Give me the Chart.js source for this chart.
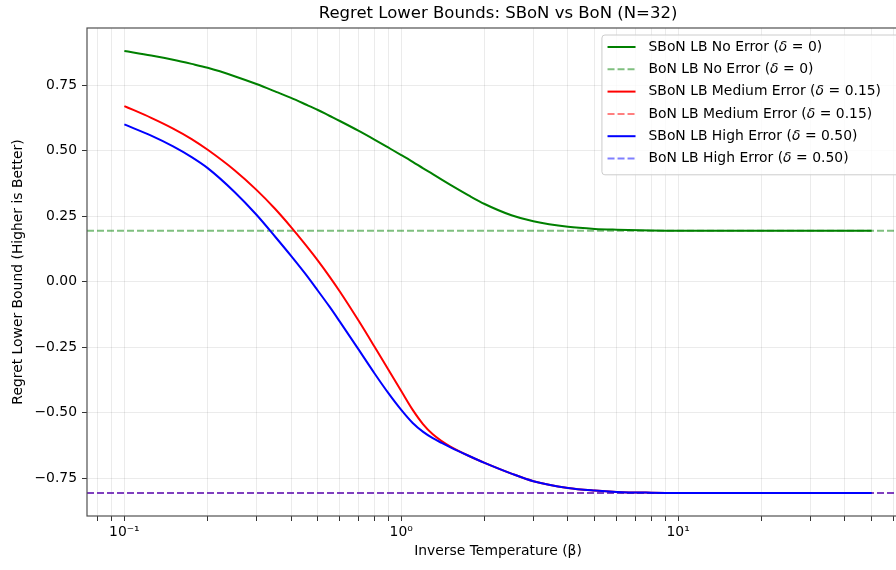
<!DOCTYPE html>
<html>
<head>
<meta charset="utf-8">
<script src="https://cdn.jsdelivr.net/npm/chart.js@4.4.0/dist/chart.umd.min.js"></script>
<style>
  html, body { margin: 0; padding: 0; overflow: hidden; background: #fff; }
  canvas { display: block; }
</style>
</head>
<body>
<canvas id="myChart" width="920" height="570"></canvas>
<script>
// Values
const beta = [0.1, 0.125, 0.15, 0.175, 0.2, 0.25, 0.3, 0.35, 0.4, 0.45,
              0.5, 0.55, 0.6, 0.7, 0.8, 0.9, 1.0, 1.1, 1.2, 1.3,
              1.4, 1.5, 1.75, 2, 2.5, 3, 4, 5, 6, 8,
              10, 15, 20, 30, 50];
const sbonNoError = [0.880, 0.863, 0.847, 0.831, 0.816, 0.784, 0.754, 0.726, 0.701, 0.677,
                     0.655, 0.633, 0.613, 0.576, 0.542, 0.511, 0.483, 0.457, 0.432, 0.410,
                     0.389, 0.370, 0.329, 0.296, 0.253, 0.230, 0.209, 0.201, 0.198, 0.195,
                     0.194, 0.194, 0.194, 0.194, 0.194];
const sbonMedium = [0.670, 0.625, 0.584, 0.544, 0.503, 0.425, 0.350, 0.278, 0.208, 0.142,
                    0.080, 0.020, -0.038, -0.148, -0.248, -0.338, -0.418, -0.490, -0.545, -0.583,
                    -0.609, -0.629, -0.665, -0.692, -0.733, -0.762, -0.788, -0.798, -0.803, -0.806,
                    -0.807, -0.807, -0.807, -0.807, -0.807];
const sbonHigh = [0.600, 0.557, 0.516, 0.475, 0.433, 0.342, 0.255, 0.172, 0.098, 0.030,
                  -0.035, -0.095, -0.153, -0.258, -0.350, -0.427, -0.490, -0.540, -0.574, -0.598,
                  -0.616, -0.632, -0.665, -0.692, -0.733, -0.762, -0.788, -0.798, -0.803, -0.806,
                  -0.807, -0.807, -0.807, -0.807, -0.807];
const bonNoError = 0.194;
const bonMedium = -0.807;
const bonHigh = -0.807;

const seriesLabels = [
    'SBoN LB No Error (δ = 0)',
    'BoN LB No Error (δ = 0)',
    'SBoN LB Medium Error (δ = 0.15)',
    'BoN LB Medium Error (δ = 0.15)',
    'SBoN LB High Error (δ = 0.50)',
    'BoN LB High Error (δ = 0.50)'
];

const xAxisMin = 0.0733;
const xAxisMax = 68.2;
const yAxisMin = -0.895;
const yAxisMax = 0.968;
const yTicks = [-0.75, -0.5, -0.25, 0, 0.25, 0.5, 0.75];
const xMajorTicks = [0.1, 1, 10];
const xMinorTicks = [0.08, 0.09, 0.2, 0.3, 0.4, 0.5, 0.6, 0.7, 0.8, 0.9, 2, 3, 4, 5, 6, 7, 8, 9, 20, 30, 40, 50, 60];

const FONT = '"DejaVu Sans", sans-serif';
Chart.defaults.font.family = FONT;
Chart.defaults.color = '#000';

function curve(values) {
    return beta.map((b, i) => ({ x: b, y: values[i] }));
}
function flat(value) {
    return [{ x: xAxisMin, y: value }, { x: xAxisMax, y: value }];
}

const sup = { '-': '⁻', '0': '⁰', '1': '¹', '2': '²', '3': '³' };
function powerLabel(v) {
    const e = String(Math.round(Math.log10(v)));
    return '10' + e.split('').map(c => sup[c]).join('');
}

// draws "text (δ = n)" with an italic delta and a bit of math spacing
function drawLabel(ctx, label, x, y, normal, italic, measureOnly) {
    const [head, tail] = label.split('δ');
    const rest = tail.replace(' = ', '=');
    const [eq, after] = [rest.slice(0, 1), rest.slice(1)];
    let tx = x;
    ctx.font = normal;
    if (!measureOnly) ctx.fillText(head, tx, y);
    tx += ctx.measureText(head).width;
    ctx.font = italic;
    if (!measureOnly) ctx.fillText('δ', tx, y);
    tx += ctx.measureText('δ').width + 4.5;
    ctx.font = normal;
    if (!measureOnly) ctx.fillText(eq, tx, y);
    tx += ctx.measureText(eq).width + 4.5;
    if (!measureOnly) ctx.fillText(after, tx, y);
    tx += ctx.measureText(after).width;
    return tx - x;
}

// Title, frame and legend drawn over the plot like matplotlib
const extras = {
    id: 'extras',
    afterDatasetsDraw(chart) {
        const ctx = chart.ctx;
        const a = chart.chartArea;
        ctx.save();
        ctx.strokeStyle = '#505050';
        ctx.lineWidth = 1.2;
        ctx.strokeRect(a.left, a.top, a.right - a.left, a.bottom - a.top);

        ctx.fillStyle = '#000';
        ctx.font = '16.5px ' + FONT;
        ctx.textAlign = 'center';
        ctx.textBaseline = 'middle';
        ctx.fillText('Regret Lower Bounds: SBoN vs BoN (N=32)', (a.left + a.right) / 2, 14);

        // legend
        const fs = 13.9;
        const normal = fs + 'px ' + FONT;
        const italic = 'oblique ' + fs + 'px ' + FONT;
        ctx.textAlign = 'left';
        ctx.textBaseline = 'middle';
        const maxW = Math.max(...seriesLabels.map(l => drawLabel(ctx, l, 0, 0, normal, italic, true)));
        const pad = 5.6, handle = 28, gap = 13, rowH = 22.3;
        const boxW = pad + handle + gap + maxW + 21;
        const boxH = rowH * seriesLabels.length + 6;
        const bx = a.right - 7 - boxW;
        const by = a.top + 7;
        ctx.beginPath();
        ctx.roundRect(bx, by, boxW, boxH, 3);
        ctx.fillStyle = 'rgba(255,255,255,0.8)';
        ctx.fill();
        ctx.strokeStyle = '#cccccc';
        ctx.lineWidth = 1;
        ctx.stroke();

        chart.data.datasets.forEach((ds, i) => {
            const cy = by + 12 + i * rowH;
            ctx.strokeStyle = ds.borderColor;
            ctx.lineWidth = ds.borderWidth;
            ctx.setLineDash(ds.borderDash || []);
            ctx.beginPath();
            ctx.moveTo(bx + pad, cy);
            ctx.lineTo(bx + pad + handle, cy);
            ctx.stroke();
            ctx.setLineDash([]);
            ctx.fillStyle = '#000';
            drawLabel(ctx, ds.label, bx + pad + handle + gap, cy, normal, italic, false);
        });
        ctx.restore();
    }
};

const solid = (label, values, color, order) => ({
    label: label,
    data: curve(values),
    borderColor: color,
    borderWidth: 2,
    pointRadius: 0,
    cubicInterpolationMode: 'monotone',
    order: order
});
const dashed = (label, value, color, order) => ({
    label: label,
    data: flat(value),
    borderColor: color,
    borderWidth: 2,
    borderDash: [7, 3],
    pointRadius: 0,
    order: order
});

const ctx = document.getElementById('myChart').getContext('2d');
const myChart = new Chart(ctx, {
    type: 'line',
    data: {
        datasets: [
            solid(seriesLabels[0], sbonNoError, '#008000', 6),
            dashed(seriesLabels[1], bonNoError, 'rgba(0,128,0,0.5)', 5),
            solid(seriesLabels[2], sbonMedium, '#ff0000', 4),
            dashed(seriesLabels[3], bonMedium, 'rgba(255,0,0,0.5)', 3),
            solid(seriesLabels[4], sbonHigh, '#0000ff', 2),
            dashed(seriesLabels[5], bonHigh, 'rgba(0,0,255,0.5)', 1)
        ]
    },
    options: {
        responsive: false,
        animation: false,
        layout: { padding: { left: 0, right: 11, top: 28, bottom: 0 } },
        plugins: {
            legend: { display: false },
            title: { display: false },
            tooltip: { enabled: false }
        },
        scales: {
            x: {
                type: 'logarithmic',
                min: xAxisMin,
                max: xAxisMax,
                afterBuildTicks: (s) => {
                    s.ticks = xMajorTicks.concat(xMinorTicks).sort((p, q) => p - q).map(v => ({ value: v }));
                },
                afterFit: (s) => { s.height = 54; },
                ticks: {
                    autoSkip: false,
                    maxRotation: 0,
                    padding: 3,
                    font: { size: 13.9 },
                    callback: (v) => xMajorTicks.includes(v) ? powerLabel(v) : ''
                },
                grid: { color: 'rgba(0,0,0,0.08)', tickColor: '#333', tickLength: 5 },
                border: { display: false },
                title: {
                    display: true,
                    text: 'Inverse Temperature (β)',
                    font: { size: 13.9 },
                    padding: { top: 0, bottom: 10 }
                }
            },
            y: {
                type: 'linear',
                min: yAxisMin,
                max: yAxisMax,
                afterBuildTicks: (s) => { s.ticks = yTicks.map(v => ({ value: v })); },
                afterFit: (s) => { s.width = 87; },
                ticks: {
                    padding: 5,
                    font: { size: 13.9 },
                    callback: (v) => (v < 0 ? '\u2212' : '') + Math.abs(v).toFixed(2)
                },
                grid: { color: 'rgba(0,0,0,0.08)', tickColor: '#333', tickLength: 5 },
                border: { display: false },
                title: {
                    display: true,
                    text: 'Regret Lower Bound (Higher is Better)',
                    font: { size: 13.9 },
                    padding: { top: 10, bottom: 0 }
                }
            }
        }
    },
    plugins: [extras]
});
</script>
</body>
</html>
